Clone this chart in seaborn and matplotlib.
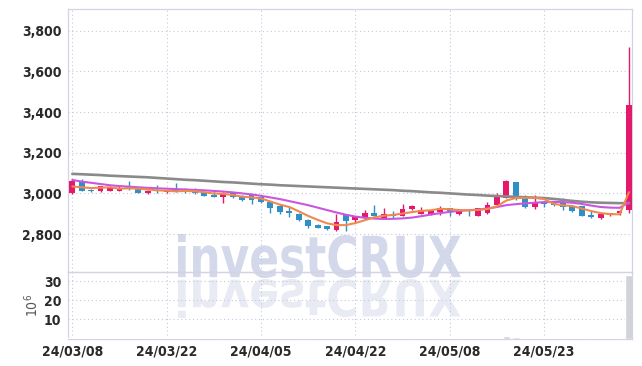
import numpy as np
import matplotlib
matplotlib.use("Agg")
import matplotlib.pyplot as plt
import seaborn as sns
from matplotlib.textpath import TextPath
from matplotlib.patches import PathPatch
from matplotlib.font_manager import FontProperties
from matplotlib.transforms import Affine2D

# ---------------- data ----------------
opens = [3000, 3058, 3016, 3012, 3014, 3012, 3032, 3030, 3003, 3018,
         3005, 3015, 3020, 3022, 3006, 2994, 2984, 3003, 2985, 2992,
         2980, 2960, 2940, 2911, 2900, 2869, 2845, 2838, 2820, 2898,
         2868, 2878, 2904, 2881, 2898, 2891, 2921, 2901, 2898, 2909,
         2927, 2898, 2919, 2890, 2903, 2944, 2977, 3056, 2988, 2934,
         2960, 2952, 2952, 2936, 2936, 2894, 2881, 2894, 2903, 2920]
highs = [3070, 3072, 3022, 3038, 3036, 3036, 3060, 3032, 3016, 3040,
         3018, 3052, 3026, 3024, 3008, 3015, 3006, 3005, 2990, 2996,
         2984, 2962, 2942, 2934, 2903, 2872, 2848, 2840, 2898, 2900,
         2891, 2918, 2944, 2927, 2911, 2947, 2942, 2931, 2917, 2936,
         2930, 2920, 2921, 2930, 2960, 3002, 3065, 3058, 2990, 2993,
         2963, 2955, 2977, 2938, 2938, 2914, 2900, 2905, 2916, 3718]
lows = [2996, 3010, 3006, 3006, 3010, 3010, 3018, 3000, 2999, 3000,
        3003, 3008, 3000, 2998, 2985, 2980, 2955, 2978, 2962, 2948,
        2955, 2903, 2898, 2885, 2864, 2832, 2828, 2820, 2815, 2815,
        2853, 2875, 2888, 2879, 2881, 2889, 2918, 2898, 2896, 2894,
        2889, 2896, 2888, 2888, 2900, 2940, 2975, 2966, 2928, 2922,
        2931, 2940, 2919, 2906, 2889, 2880, 2874, 2891, 2894, 2905]
closes = [3060, 3013, 3012, 3034, 3030, 3027, 3022, 3003, 3013, 3010,
          3015, 3010, 3013, 3001, 2989, 2984, 3003, 2981, 2965, 2968,
          2958, 2928, 2907, 2902, 2867, 2840, 2832, 2824, 2858, 2866,
          2889, 2905, 2890, 2898, 2890, 2924, 2940, 2916, 2914, 2926,
          2915, 2917, 2912, 2927, 2945, 2980, 3063, 2970, 2931, 2952,
          2946, 2944, 2931, 2915, 2891, 2882, 2898, 2902, 2914, 3433]
ma5 = [3034, 3030, 3026, 3028, 3030, 3023, 3025, 3023, 3019, 3015,
       3013, 3010, 3012, 3010, 3006, 2999, 2998, 2992, 2984, 2980,
       2975, 2960, 2945, 2933, 2912, 2889, 2870, 2853, 2844, 2844,
       2854, 2868, 2882, 2890, 2894, 2901, 2908, 2914, 2917, 2924,
       2922, 2918, 2917, 2919, 2923, 2936, 2965, 2977, 2978, 2979,
       2972, 2949, 2941, 2938, 2925, 2913, 2903, 2898, 2897, 3006]
ma20 = [3066, 3058, 3052, 3046, 3040, 3036, 3033, 3030, 3027, 3025,
        3023, 3021, 3019, 3017, 3015, 3012, 3009, 3005, 3000, 2995,
        2988, 2980, 2972, 2962, 2952, 2942, 2930, 2918, 2906, 2895,
        2886, 2880, 2876, 2874, 2875, 2877, 2881, 2888, 2896, 2903,
        2909, 2914, 2917, 2920, 2926, 2933, 2942, 2947, 2951, 2954,
        2957, 2958, 2957, 2954, 2948, 2940, 2933, 2930, 2929, 2955]
ma_long = [3096, 3094, 3092, 3090, 3087, 3085, 3083, 3081, 3079, 3076,
           3073, 3070, 3067, 3065, 3062, 3059, 3056, 3054, 3051, 3048,
           3045, 3043, 3040, 3038, 3036, 3034, 3032, 3030, 3028, 3026,
           3024, 3022, 3020, 3018, 3016, 3013, 3011, 3008, 3005, 3003,
           3000, 2997, 2994, 2992, 2989, 2987, 2985, 2983, 2981, 2979,
           2977, 2973, 2968, 2963, 2959, 2956, 2954, 2953, 2952, 2952]
volume = [0.4, 0.3, 0.2, 0.3, 0.2, 0.2, 0.3, 0.3, 0.2, 0.2,
          0.2, 0.3, 0.2, 0.2, 0.2, 0.2, 0.3, 0.2, 0.2, 0.2,
          0.2, 0.3, 0.3, 0.2, 0.3, 0.3, 0.2, 0.2, 0.4, 0.3,
          0.2, 0.3, 0.3, 0.2, 0.2, 0.3, 0.3, 0.2, 0.2, 0.2,
          0.2, 0.2, 0.2, 0.2, 0.3, 0.4, 1.2, 0.9, 0.4, 0.3,
          0.3, 0.2, 0.3, 0.2, 0.3, 0.2, 0.2, 0.2, 0.2, 33.0]
xtick_pos = [0, 10, 20, 30, 40, 50]
xtick_labels = ["24/03/08", "24/03/22", "24/04/05", "24/04/22", "24/05/08", "24/05/23"]
ytick_price = [2800, 3000, 3200, 3400, 3600, 3800]
ytick_vol = [10, 20, 30]

# ---------------- style ----------------
sns.set_theme(style="white")
plt.rcParams['font.family'] = ['DejaVu Sans']
plt.rcParams['font.stretch'] = 'condensed'

UP = '#e5186b'
DOWN = '#2f8fc6'
GRID = '#c5c8df'
SPINE = '#d3d4e3'
TXT = '#2a2a2a'
TICKFONT = dict(family='DejaVu Sans', stretch='condensed', weight='bold', size=10)

W, H = 642, 366
fig = plt.figure(figsize=(W / 100, H / 100), dpi=100, facecolor='white')
L, R = 68.3, 632.3
ax = fig.add_axes([L / W, 1 - 272.3 / H, (R - L) / W, (272.3 - 9.3) / H])
axv = fig.add_axes([L / W, 1 - 338.5 / H, (R - L) / W, (338.5 - 272.3) / H])
for a in (ax, axv):
    a.set_facecolor('none')

x = np.arange(len(closes))
o = np.array(opens, float); c = np.array(closes, float)
hi = np.array(highs, float); lo = np.array(lows, float)
cols = [UP if cc >= oo else DOWN for oo, cc in zip(o, c)]

# candles
ax.vlines(x, lo, hi, colors=cols, linewidth=1.0, zorder=3)
body_bottom = np.minimum(o, c)
body_h = np.maximum(np.abs(c - o), 2.5)
ax.bar(x, body_h, bottom=body_bottom, width=0.62, color=cols, linewidth=0, zorder=4)

# moving averages
sns.lineplot(x=x, y=ma_long, ax=ax, color='#8a8a8a', linewidth=1.9, zorder=5)
sns.lineplot(x=x, y=ma20, ax=ax, color='#c956df', linewidth=1.5, zorder=6)
sns.lineplot(x=x, y=ma5, ax=ax, color='#ef8a4e', linewidth=1.5, zorder=7)

# volume
sns.barplot(x=x, y=volume, ax=axv, native_scale=True, color='#d2d2da',
            saturation=1, width=0.8, errorbar=None, zorder=3)

for a in (ax, axv):
    a.set_xlim(-0.42, 59.35)
    a.grid(True, color=GRID, linestyle=(0, (1, 2.5)), linewidth=0.8)
    a.set_axisbelow(True)
    for s in a.spines.values():
        s.set_color(SPINE)
        s.set_linewidth(0.9)
    a.tick_params(length=0, colors=TXT)
    a.set_xlabel('')

ax.set_ylim(2612, 3905)
ax.set_yticks(ytick_price, [f"{v:,}" for v in ytick_price], **TICKFONT)
ax.set_xticks(xtick_pos)
ax.tick_params(labelbottom=False, pad=5)
ax.set_ylabel('')

axv.set_ylim(0, 34.6)
axv.set_yticks(ytick_vol, [str(v) for v in ytick_vol], **TICKFONT)
axv.set_xticks(xtick_pos, xtick_labels, **TICKFONT)
axv.tick_params(axis='y', pad=5)
axv.tick_params(axis='x', pad=4)
axv.set_ylabel(r'$10^6$', color='#555555', fontsize=10, labelpad=2)


# watermark
def add_wm(x0, x1, ytop, ybot, color, flip=False):
    fp = FontProperties(family='DejaVu Sans', weight='bold')
    tp = TextPath((0, 0), "investCRUX", size=100, prop=fp)
    ext = tp.get_extents()
    sx = (x1 - x0) / ext.width
    sy = (ybot - ytop) / ext.height
    if not flip:
        tr = Affine2D().translate(-ext.x0, -ext.y0).scale(sx, sy).translate(x0, H - ybot)
    else:
        tr = Affine2D().translate(-ext.x0, -ext.y1).scale(sx, -sy).translate(x0, H - ybot)
    p = PathPatch(tp, transform=tr, facecolor=color, edgecolor='none', zorder=-1)
    fig.add_artist(p)


add_wm(178, 461, 234, 278, '#d3d8ea')
add_wm(178, 461, 279, 318, '#e9ebf4', flip=True)

fig.savefig('out.png', dpi=100, facecolor='white')
